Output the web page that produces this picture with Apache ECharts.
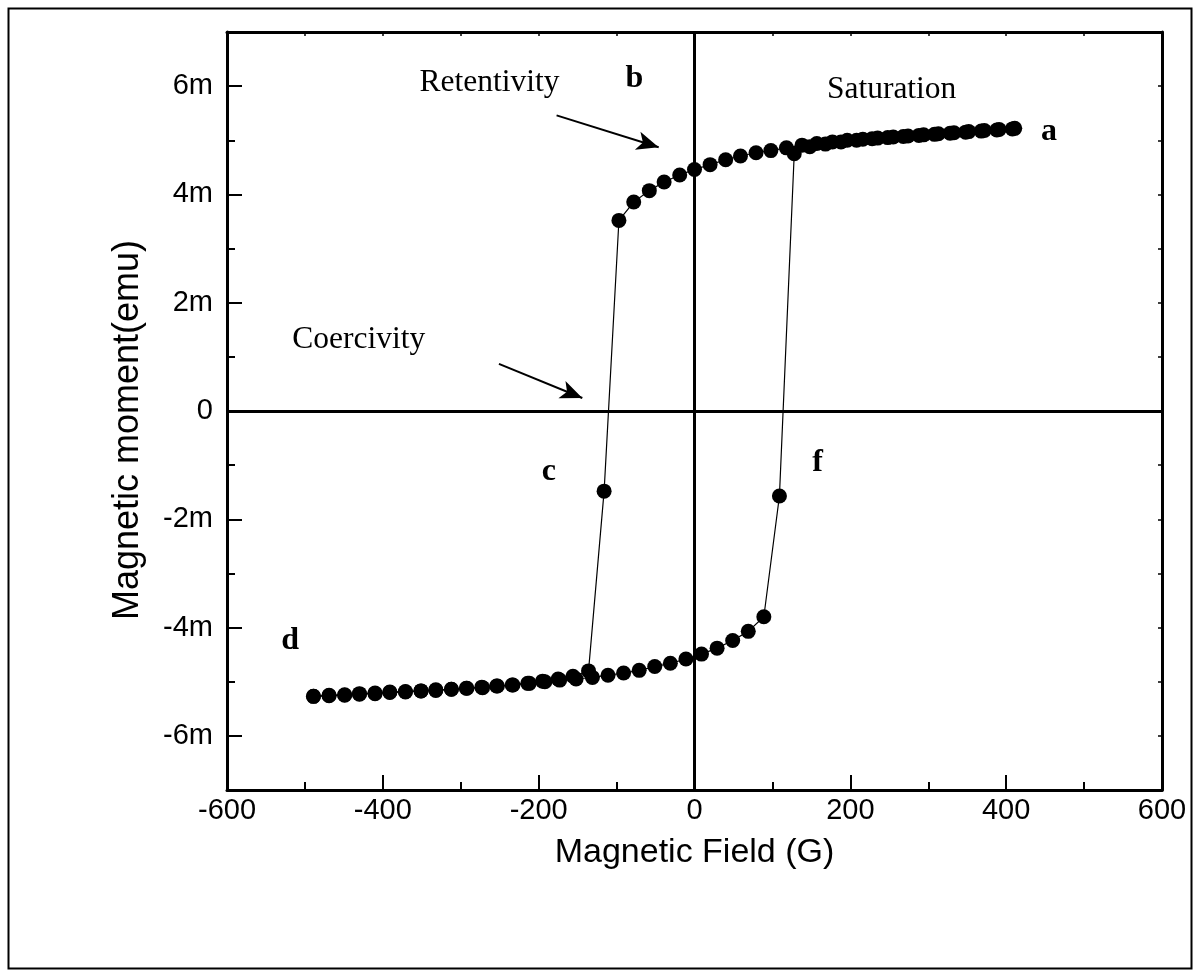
<!DOCTYPE html>
<html>
<head>
<meta charset="utf-8">
<script src="https://cdn.jsdelivr.net/npm/echarts@6/dist/echarts.min.js"></script>
<style>
html, body { margin: 0; padding: 0; background: #fff; }
#chart { width: 1199px; height: 976px; }
</style>
</head>
<body>
<div id="chart"></div>
<script>
// descending branch a -> b -> c -> d  (field in G, moment in memu)
var downField = [411, 391, 372, 352, 333, 313, 294, 274, 255, 235, 216, 196, 177, 157, 138, 118, 98, 79, 59, 40, 20, 0, -19, -39, -58, -78, -97, -116, -136, -156, -175, -195, -214, -234, -254, -273, -293, -312, -332, -351, -371, -391, -410, -430, -449, -469, -489];
var downMoment = [5.22, 5.20, 5.18, 5.16, 5.14, 5.12, 5.10, 5.08, 5.06, 5.04, 5.02, 5.00, 4.97, 4.94, 4.91, 4.86, 4.81, 4.77, 4.71, 4.64, 4.55, 4.46, 4.36, 4.23, 4.07, 3.86, 3.52, -1.48, -4.80, -4.90, -4.95, -4.99, -5.03, -5.06, -5.08, -5.10, -5.12, -5.14, -5.15, -5.17, -5.18, -5.19, -5.21, -5.22, -5.24, -5.25, -5.27];

// ascending branch d -> f -> a
var upField = [-489, -469, -449, -430, -410, -391, -371, -351, -332, -312, -292, -272, -253, -233, -212, -192, -173, -152, -131, -111, -91, -71, -51, -31, -11, 9, 29, 49, 69, 89, 109, 128, 148, 168, 188, 208, 228, 248, 268, 288, 308, 328, 348, 368, 388, 408];
var upMoment = [-5.27, -5.26, -5.25, -5.23, -5.22, -5.20, -5.19, -5.17, -5.16, -5.14, -5.12, -5.11, -5.08, -5.06, -5.03, -5.00, -4.97, -4.95, -4.92, -4.88, -4.84, -4.79, -4.72, -4.66, -4.58, -4.49, -4.38, -4.24, -4.07, -3.80, -1.57, 4.75, 4.88, 4.93, 4.97, 5.00, 5.03, 5.05, 5.07, 5.09, 5.11, 5.13, 5.15, 5.17, 5.19, 5.21];

// y tick labels (memu)
var yTicks = [-6, -4, -2, 0, 2, 4, 6];

// annotations: text, field, moment
var notes = [
  ['Retentivity', -263, 6.06],
  ['b', -77, 6.13],
  ['Saturation', 253, 5.94],
  ['a', 455, 5.15],
  ['Coercivity', -431, 1.31],
  ['c', -187, -1.13],
  ['f', 158, -0.96],
  ['d', -519, -4.24]
];
var arrows = [
  [[-177, 5.46], [-46, 4.87]],
  [[-251, 0.87], [-144, 0.24]]
];

function zip(xs, ys) {
  return xs.map(function (x, i) { return [x, ys[i]]; });
}

var black = '#000';
var sans = 'Liberation Sans';
var serif = 'Liberation Serif';

var chart = echarts.init(document.getElementById('chart'));

var loopStyle = {
  type: 'line',
  xAxisIndex: 0,
  yAxisIndex: 0,
  symbol: 'circle',
  symbolSize: 15,
  itemStyle: { color: black },
  lineStyle: { color: black, width: 1.2 },
  z: 3
};

var option = {
  animation: false,
  backgroundColor: '#fff',
  grid: { left: 227, right: 37, top: 32, bottom: 186 },
  graphic: [{
    type: 'rect',
    left: 6, top: 6,
    shape: { width: 1183, height: 960 },
    style: { fill: null, stroke: black, lineWidth: 2 }
  }],
  xAxis: [{
    type: 'value', position: 'bottom',
    min: -600, max: 600, interval: 200,
    axisLine: { onZero: false, lineStyle: { color: black, width: 3 } },
    axisTick: { inside: true, length: 15, lineStyle: { color: black, width: 2 } },
    minorTick: { show: true, splitNumber: 2, length: 8, lineStyle: { color: black, width: 2 } },
    splitLine: { show: false },
    axisLabel: { fontFamily: sans, fontSize: 29, color: black, margin: 6, showMinLabel: true, showMaxLabel: true },
    name: 'Magnetic Field (G)',
    nameLocation: 'middle',
    nameGap: 46,
    nameTextStyle: { fontFamily: sans, fontSize: 34, color: black }
  }, {
    type: 'value', position: 'top',
    min: -600, max: 600, interval: 100,
    axisLine: { onZero: false, lineStyle: { color: black, width: 3 } },
    axisTick: { inside: true, length: 4, lineStyle: { color: black, width: 1.5 } },
    axisLabel: { show: false },
    splitLine: { show: false }
  }],
  yAxis: [{
    type: 'value', position: 'left',
    min: -7, max: 7, interval: 1,
    axisLine: { onZero: false, lineStyle: { color: black, width: 3 } },
    axisTick: { inside: true, length: 8, lineStyle: { color: black, width: 2 } },
    splitLine: { show: false },
    axisLabel: {
      customValues: yTicks,
      fontFamily: sans, fontSize: 29, color: black, margin: 14,
      formatter: function (v) { return v === 0 ? '0' : v + 'm'; }
    },
    name: 'Magnetic moment(emu)',
    nameLocation: 'middle',
    nameGap: 81,
    nameTextStyle: { fontFamily: sans, fontSize: 36, color: black, padding: [0, 38, 0, 0] }
  }, {
    type: 'value', position: 'left',
    min: -7, max: 7,
    axisLine: { show: false, onZero: false },
    axisTick: { customValues: yTicks, inside: true, length: 15, lineStyle: { color: black, width: 2 } },
    axisLabel: { show: false },
    splitLine: { show: false }
  }, {
    type: 'value', position: 'right',
    min: -7, max: 7, interval: 1,
    axisLine: { onZero: false, lineStyle: { color: black, width: 3 } },
    axisTick: { inside: true, length: 4, lineStyle: { color: black, width: 1.5 } },
    axisLabel: { show: false },
    splitLine: { show: false }
  }],
  series: [
    Object.assign({}, loopStyle, {
      name: 'down',
      data: zip(downField, downMoment),
      markLine: {
        silent: true,
        symbol: ['none', 'none'],
        label: { show: false },
        lineStyle: { color: black, width: 3, type: 'solid' },
        data: [{ xAxis: 0 }, { yAxis: 0 }],
        z: 2
      }
    }),
    Object.assign({}, loopStyle, {
      name: 'up',
      data: zip(upField, upMoment)
    }),
    {
      type: 'scatter',
      name: 'notes',
      symbolSize: 0,
      silent: true,
      itemStyle: { opacity: 1, color: black },
      data: notes.map(function (n) {
        var letter = n[0].length === 1;
        return {
          name: n[0],
          value: [n[1], n[2]],
          label: {
            show: true,
            position: 'inside',
            formatter: '{b}',
            fontFamily: serif,
            fontSize: letter ? 32 : 31.5,
            fontWeight: letter ? 'bold' : 'normal',
            color: black
          }
        };
      }),
      markLine: {
        silent: true,
        symbol: ['none', 'arrow'],
        symbolSize: [14, 22],
        label: { show: false },
        lineStyle: { color: black, width: 2, type: 'solid', opacity: 1 },
        itemStyle: { color: black, opacity: 1 },
        data: arrows.map(function (a) {
          return [{ coord: a[0] }, { coord: a[1] }];
        })
      }
    }
  ]
};

chart.setOption(option);
</script>
</body>
</html>
